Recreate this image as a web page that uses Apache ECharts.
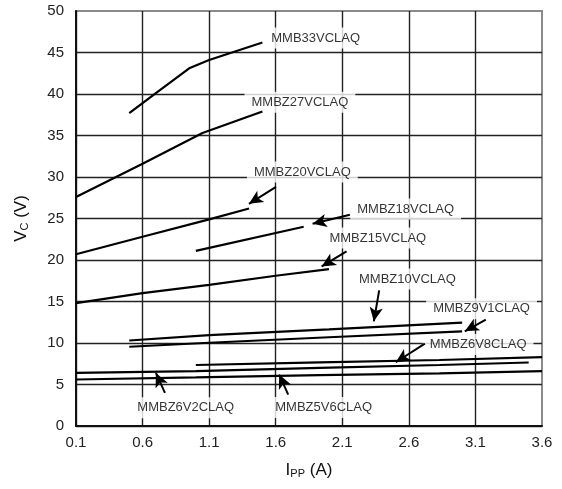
<!DOCTYPE html>
<html><head><meta charset="utf-8">
<script src="https://cdn.jsdelivr.net/npm/echarts@6/dist/echarts.min.js"></script>
<style>html,body{margin:0;padding:0;background:#fff}#c{width:562px;height:489px}</style>
</head><body><div id="c"></div>
<script>
// ---- data (I in A, V in volts) ----
const xTicks = [0.1, 0.6, 1.1, 1.6, 2.1, 2.6, 3.1, 3.6];
const yTicks = [0, 5, 10, 15, 20, 25, 30, 35, 40, 45, 50];
const MMB33 = [[0.5, 37.7], [0.7, 40.1], [0.95, 43.1], [1.1, 44.1], [1.5, 46.2]];
const MMBZ27 = [[0.1, 27.6], [0.6, 31.6], [1.05, 35.3], [1.5, 37.9]];
const MMBZ20 = [[0.1, 20.7], [0.6, 22.8], [1.1, 24.9], [1.4, 26.2]];
const MMBZ18 = [[1.0, 21.1], [1.81, 24.0]];
const MMBZ15 = [[0.1, 14.8], [0.6, 16.0], [1.1, 17.0], [1.6, 18.1], [2.0, 18.9]];
const MMBZ10 = [[0.5, 10.3], [1.1, 10.96], [2.0, 11.65], [3.0, 12.45]];
const MMBZ9V1 = [[0.5, 9.55], [1.1, 10.03], [2.0, 10.69], [3.0, 11.4]];
const MMBZ6V8 = [[1.0, 7.35], [1.93, 7.67], [2.83, 7.95], [3.6, 8.3]];
const MMBZ6V2 = [[0.1, 6.4], [1.0, 6.6], [1.93, 7.0], [2.83, 7.35], [3.5, 7.65]];
const MMBZ5V6 = [[0.1, 5.6], [1.0, 5.85], [1.93, 6.14], [2.83, 6.35], [3.6, 6.6]];
const curves = [MMB33, MMBZ27, MMBZ20, MMBZ18, MMBZ15, MMBZ10, MMBZ9V1, MMBZ6V8, MMBZ6V2, MMBZ5V6];
// labels: [I, V, text]
const labelPoints = [
  [1.90, 46.75, 'MMB33VCLAQ'],
  [1.782, 39.0, 'MMBZ27VCLAQ'],
  [1.800, 30.6, 'MMBZ20VCLAQ'],
  [2.576, 26.14, 'MMBZ18VCLAQ'],
  [2.367, 22.65, 'MMBZ15VCLAQ'],
  [2.589, 17.71, 'MMBZ10VCLAQ'],
  [3.146, 14.14, 'MMBZ9V1CLAQ'],
  [3.120, 9.81, 'MMBZ6V8CLAQ'],
  [0.924, 2.19, 'MMBZ6V2CLAQ'],
  [1.960, 2.23, 'MMBZ5V6CLAQ']
];
// arrows: [fromI, fromV, toI, toV]
const arrows = [
  [1.602, 28.82, 1.399, 26.77],
  [2.157, 25.45, 1.877, 24.37],
  [2.132, 21.03, 1.945, 19.23],
  [2.377, 16.34, 2.337, 12.61],
  [3.178, 12.82, 3.020, 11.41],
  [2.720, 9.93, 2.502, 7.68],
  [0.768, 4.0, 0.70, 6.4],
  [1.694, 3.79, 1.626, 6.2]
];

// ---- build ----
const X0 = xTicks[0];
const sx = p => [p[0] - X0, p[1]];
const font = 'Liberation Sans, Arial, sans-serif';
const tickFont = 'Liberation Sans Narrow, Arial Narrow, Liberation Sans, sans-serif';
const series = [];
curves.forEach(c => series.push({
  type: 'line', data: c.map(sx), symbol: 'none', z: 3,
  lineStyle: { color: '#000', width: 2.2 }, silent: true
}));
series.push({
  type: 'scatter', z: 1, symbolSize: 1, itemStyle: { color: 'rgba(0,0,0,0)' },
  data: labelPoints.map(p => [p[0] - X0, p[1], p[2]]),
  label: {
    show: true, position: 'inside', formatter: p => p.data[2],
    color: '#000', fontSize: 13, fontFamily: font,
    backgroundColor: '#fff', padding: [4, 7]
  }
});
series.push({
  type: 'line', data: [], z: 4,
  markLine: {
    silent: true, animation: false, symbol: ['none', 'arrow'], symbolSize: [10, 14],
    label: { show: false },
    lineStyle: { color: '#000', width: 2, type: 'solid' },
    data: arrows.map(a => [{ coord: [a[0] - X0, a[1]] }, { coord: [a[2] - X0, a[3]] }])
  }
});

const chart = echarts.init(document.getElementById('c'));
chart.setOption({
  animation: false,
  backgroundColor: '#fff',
  grid: { left: 76, right: 20, top: 11, bottom: 63, show: true, borderColor: '#8a8a8a', borderWidth: 2 },
  xAxis: {
    type: 'value', min: 0, max: xTicks[xTicks.length - 1] - X0, interval: 0.5,
    name: '{a|I}{b|PP}{a| (A)}', nameLocation: 'middle', nameGap: 36,
    nameTextStyle: { rich: { a: { fontSize: 17, fontFamily: font, color: '#111' }, b: { fontSize: 11, fontFamily: font, color: '#111', verticalAlign: 'bottom', padding: [6, 0, 0, 0] } } },
    axisLine: { lineStyle: { color: '#111', width: 2 } },
    axisTick: { show: false },
    axisLabel: { formatter: v => (v + X0).toFixed(1), fontSize: 15, fontFamily: tickFont, color: '#222', margin: 9 },
    splitLine: { show: true, showMaxLine: false, lineStyle: { color: '#222', width: 1.4 } }
  },
  yAxis: {
    type: 'value', min: 0, max: 50, interval: 5,
    name: '{a|V}{b|C}{a| (V)}', nameLocation: 'middle', nameGap: 46,
    nameTextStyle: { rich: { a: { fontSize: 17, fontFamily: font, color: '#111' }, b: { fontSize: 11, fontFamily: font, color: '#111', verticalAlign: 'bottom', padding: [6, 0, 0, 0] } } },
    axisLine: { show: true, lineStyle: { color: '#111', width: 2 } },
    axisTick: { show: false },
    axisLabel: { fontSize: 15, fontFamily: tickFont, color: '#222', margin: 12 },
    splitLine: { show: true, showMaxLine: false, lineStyle: { color: '#222', width: 1.4 } }
  },
  series: series
});
</script>
</body></html>
